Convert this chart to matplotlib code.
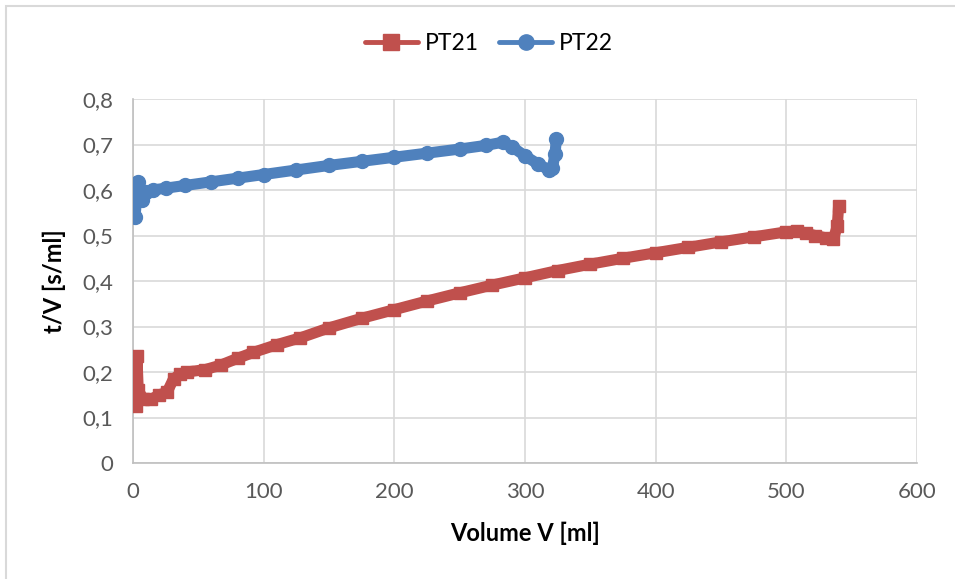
import matplotlib
matplotlib.use("Agg")
import matplotlib.pyplot as plt
from matplotlib.patches import Rectangle
from matplotlib.ticker import FuncFormatter

plt.rcParams['font.family'] = ['Lato', 'DejaVu Sans']

# filtration data: volume V [ml] vs t/V [s/ml]
pt21_v = [2, 3, 4, 8, 14, 20, 26, 31, 36, 41, 55, 67, 80, 92, 110, 128, 150,
          175, 200, 225, 250, 275, 300, 325, 350, 375, 400, 425, 450, 475,
          500, 508, 515, 522, 530, 536, 539, 540]
pt21_t = [0.125, 0.235, 0.16, 0.14, 0.14, 0.15, 0.155, 0.185, 0.195, 0.2,
          0.205, 0.215, 0.23, 0.243, 0.26, 0.275, 0.297, 0.318, 0.337, 0.356,
          0.374, 0.391, 0.407, 0.423, 0.437, 0.45, 0.462, 0.474, 0.486,
          0.497, 0.508, 0.51, 0.505, 0.5, 0.495, 0.493, 0.52, 0.565]

pt22_v = [1.5, 4, 7, 10, 15, 25, 40, 60, 80, 100, 125, 150, 175, 200, 225,
          250, 270, 283, 290, 300, 310, 318, 321, 323, 324]
pt22_t = [0.541, 0.618, 0.578, 0.595, 0.6, 0.604, 0.61, 0.618, 0.626, 0.634,
          0.644, 0.654, 0.663, 0.672, 0.681, 0.69, 0.698, 0.705, 0.695, 0.675,
          0.657, 0.645, 0.648, 0.68, 0.712]

red = '#c0504d'
blue = '#4f81bd'

fig = plt.figure(figsize=(9.55, 5.79), dpi=100)
ax = fig.add_axes([133 / 955, 1 - 463 / 579, (917 - 133) / 955, (463 - 99) / 579])

ax.plot(pt21_v, pt21_t, color=red, lw=8, marker='s', ms=9,
        solid_joinstyle='round', solid_capstyle='round', label='PT21', zorder=3)
ax.plot(pt22_v, pt22_t, color=blue, lw=8, marker='o', ms=10,
        solid_joinstyle='round', solid_capstyle='round', label='PT22', zorder=3)

ax.set_xlim(0, 600)
ax.set_ylim(0, 0.8)
ax.set_xticks(range(0, 601, 100))
ax.set_yticks([i / 10 for i in range(9)])
ax.yaxis.set_major_formatter(FuncFormatter(
    lambda y, p: '0' if y == 0 else ('%.1f' % y).replace('.', ',')))

ax.grid(True, color='#d9d9d9', lw=1.2)
ax.set_axisbelow(True)
for s in ['top', 'right']:
    ax.spines[s].set_visible(False)
for s in ['left', 'bottom']:
    ax.spines[s].set_color('#bfbfbf')
    ax.spines[s].set_linewidth(1.2)
ax.tick_params(length=0, labelsize=16, colors='#595959')
ax.tick_params(axis='x', pad=14)
ax.tick_params(axis='y', pad=14)

ax.set_xlabel('Volume V [ml]', fontsize=17, fontweight='bold', labelpad=14)
ax.set_ylabel('t/V [s/ml]', fontsize=17, fontweight='bold', labelpad=12)

leg = fig.legend(*ax.get_legend_handles_labels(), loc='center',
                 bbox_to_anchor=(0.512, 1 - 44 / 579), ncol=2,
                 frameon=False, fontsize=16.5, handlelength=2.3,
                 handletextpad=0.3, columnspacing=0.9)
for h in leg.legend_handles:
    h.set_linewidth(3.5)
    h.set_markersize(11)

# outer chart frame
fig.patches.append(Rectangle((6 / 955, -0.1), 1.2, 1 - 6 / 579 + 0.1,
                             transform=fig.transFigure, fill=False,
                             edgecolor='#d9d9d9', lw=1.5))

fig.savefig('out.png', dpi=100)
